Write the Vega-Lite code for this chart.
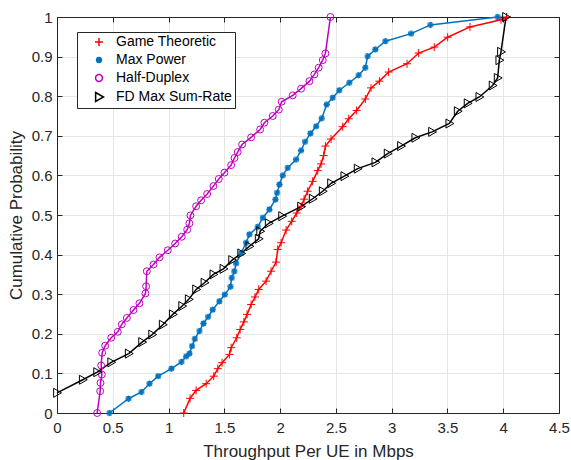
{
  "$schema": "https://vega.github.io/schema/vega-lite/v6.json",
  "width": 502,
  "height": 396,
  "autosize": {"type": "none"},
  "padding": {"left": 57, "top": 17, "right": 12, "bottom": 47},
  "background": "white",
  "config": {
    "view": {"stroke": "#262626", "strokeWidth": 1},
    "font": "Liberation Sans",
    "axis": {
      "labelFont": "Liberation Sans",
      "titleFont": "Liberation Sans",
      "labelFontSize": 15,
      "titleFontSize": 17,
      "titleFontWeight": "normal",
      "labelColor": "#262626",
      "titleColor": "#262626",
      "domainColor": "#262626",
      "tickColor": "#262626",
      "gridColor": "#e6e6e6",
      "gridOpacity": 1,
      "labelFlush": false,
      "labelOverlap": false
    }
  },
  "data": {
    "values": [
      {"s": "Game Theoretic", "x": 1.136, "y": 0},
      {"s": "Game Theoretic", "x": 1.193, "y": 0.037},
      {"s": "Game Theoretic", "x": 1.247, "y": 0.057},
      {"s": "Game Theoretic", "x": 1.337, "y": 0.074},
      {"s": "Game Theoretic", "x": 1.405, "y": 0.093},
      {"s": "Game Theoretic", "x": 1.441, "y": 0.112},
      {"s": "Game Theoretic", "x": 1.48, "y": 0.127},
      {"s": "Game Theoretic", "x": 1.546, "y": 0.148},
      {"s": "Game Theoretic", "x": 1.561, "y": 0.165},
      {"s": "Game Theoretic", "x": 1.611, "y": 0.19},
      {"s": "Game Theoretic", "x": 1.642, "y": 0.211},
      {"s": "Game Theoretic", "x": 1.675, "y": 0.23},
      {"s": "Game Theoretic", "x": 1.704, "y": 0.249},
      {"s": "Game Theoretic", "x": 1.74, "y": 0.274},
      {"s": "Game Theoretic", "x": 1.775, "y": 0.293},
      {"s": "Game Theoretic", "x": 1.808, "y": 0.312},
      {"s": "Game Theoretic", "x": 1.874, "y": 0.333},
      {"s": "Game Theoretic", "x": 1.919, "y": 0.358},
      {"s": "Game Theoretic", "x": 1.964, "y": 0.381},
      {"s": "Game Theoretic", "x": 1.978, "y": 0.413},
      {"s": "Game Theoretic", "x": 2.009, "y": 0.43},
      {"s": "Game Theoretic", "x": 2.054, "y": 0.462},
      {"s": "Game Theoretic", "x": 2.104, "y": 0.484},
      {"s": "Game Theoretic", "x": 2.149, "y": 0.505},
      {"s": "Game Theoretic", "x": 2.188, "y": 0.522},
      {"s": "Game Theoretic", "x": 2.215, "y": 0.54},
      {"s": "Game Theoretic", "x": 2.247, "y": 0.56},
      {"s": "Game Theoretic", "x": 2.292, "y": 0.585},
      {"s": "Game Theoretic", "x": 2.337, "y": 0.612},
      {"s": "Game Theoretic", "x": 2.367, "y": 0.629},
      {"s": "Game Theoretic", "x": 2.39, "y": 0.65},
      {"s": "Game Theoretic", "x": 2.406, "y": 0.674},
      {"s": "Game Theoretic", "x": 2.457, "y": 0.692},
      {"s": "Game Theoretic", "x": 2.561, "y": 0.723},
      {"s": "Game Theoretic", "x": 2.615, "y": 0.743},
      {"s": "Game Theoretic", "x": 2.686, "y": 0.764},
      {"s": "Game Theoretic", "x": 2.764, "y": 0.793},
      {"s": "Game Theoretic", "x": 2.815, "y": 0.821},
      {"s": "Game Theoretic", "x": 2.89, "y": 0.838},
      {"s": "Game Theoretic", "x": 2.973, "y": 0.861},
      {"s": "Game Theoretic", "x": 3.138, "y": 0.882},
      {"s": "Game Theoretic", "x": 3.242, "y": 0.909},
      {"s": "Game Theoretic", "x": 3.382, "y": 0.924},
      {"s": "Game Theoretic", "x": 3.502, "y": 0.949},
      {"s": "Game Theoretic", "x": 3.702, "y": 0.975},
      {"s": "Game Theoretic", "x": 3.98, "y": 0.993},
      {"s": "Game Theoretic", "x": 4.03, "y": 1.0},

      {"s": "Max Power", "x": 0.47, "y": 0},
      {"s": "Max Power", "x": 0.641, "y": 0.036},
      {"s": "Max Power", "x": 0.757, "y": 0.053},
      {"s": "Max Power", "x": 0.829, "y": 0.074},
      {"s": "Max Power", "x": 0.907, "y": 0.093},
      {"s": "Max Power", "x": 1.026, "y": 0.112},
      {"s": "Max Power", "x": 1.116, "y": 0.129},
      {"s": "Max Power", "x": 1.158, "y": 0.143},
      {"s": "Max Power", "x": 1.187, "y": 0.15},
      {"s": "Max Power", "x": 1.211, "y": 0.169},
      {"s": "Max Power", "x": 1.235, "y": 0.187},
      {"s": "Max Power", "x": 1.277, "y": 0.207},
      {"s": "Max Power", "x": 1.313, "y": 0.226},
      {"s": "Max Power", "x": 1.355, "y": 0.243},
      {"s": "Max Power", "x": 1.396, "y": 0.261},
      {"s": "Max Power", "x": 1.456, "y": 0.282},
      {"s": "Max Power", "x": 1.504, "y": 0.299},
      {"s": "Max Power", "x": 1.555, "y": 0.319},
      {"s": "Max Power", "x": 1.566, "y": 0.341},
      {"s": "Max Power", "x": 1.59, "y": 0.358},
      {"s": "Max Power", "x": 1.606, "y": 0.378},
      {"s": "Max Power", "x": 1.651, "y": 0.404},
      {"s": "Max Power", "x": 1.695, "y": 0.43},
      {"s": "Max Power", "x": 1.725, "y": 0.451},
      {"s": "Max Power", "x": 1.799, "y": 0.47},
      {"s": "Max Power", "x": 1.845, "y": 0.493},
      {"s": "Max Power", "x": 1.904, "y": 0.514},
      {"s": "Max Power", "x": 1.958, "y": 0.539},
      {"s": "Max Power", "x": 1.973, "y": 0.556},
      {"s": "Max Power", "x": 1.994, "y": 0.577},
      {"s": "Max Power", "x": 2.024, "y": 0.6},
      {"s": "Max Power", "x": 2.068, "y": 0.619},
      {"s": "Max Power", "x": 2.143, "y": 0.64},
      {"s": "Max Power", "x": 2.188, "y": 0.663},
      {"s": "Max Power", "x": 2.224, "y": 0.685},
      {"s": "Max Power", "x": 2.272, "y": 0.706},
      {"s": "Max Power", "x": 2.323, "y": 0.724},
      {"s": "Max Power", "x": 2.373, "y": 0.744},
      {"s": "Max Power", "x": 2.418, "y": 0.779},
      {"s": "Max Power", "x": 2.471, "y": 0.796},
      {"s": "Max Power", "x": 2.531, "y": 0.815},
      {"s": "Max Power", "x": 2.621, "y": 0.834},
      {"s": "Max Power", "x": 2.704, "y": 0.853},
      {"s": "Max Power", "x": 2.764, "y": 0.872},
      {"s": "Max Power", "x": 2.785, "y": 0.901},
      {"s": "Max Power", "x": 2.854, "y": 0.918},
      {"s": "Max Power", "x": 2.944, "y": 0.939},
      {"s": "Max Power", "x": 3.174, "y": 0.958},
      {"s": "Max Power", "x": 3.347, "y": 0.98},
      {"s": "Max Power", "x": 3.95, "y": 1.0},

      {"s": "Half-Duplex", "x": 0.36, "y": 0},
      {"s": "Half-Duplex", "x": 0.387, "y": 0.055},
      {"s": "Half-Duplex", "x": 0.39, "y": 0.076},
      {"s": "Half-Duplex", "x": 0.402, "y": 0.097},
      {"s": "Half-Duplex", "x": 0.396, "y": 0.12},
      {"s": "Half-Duplex", "x": 0.405, "y": 0.152},
      {"s": "Half-Duplex", "x": 0.432, "y": 0.17},
      {"s": "Half-Duplex", "x": 0.486, "y": 0.19},
      {"s": "Half-Duplex", "x": 0.545, "y": 0.205},
      {"s": "Half-Duplex", "x": 0.581, "y": 0.224},
      {"s": "Half-Duplex", "x": 0.626, "y": 0.24},
      {"s": "Half-Duplex", "x": 0.686, "y": 0.26},
      {"s": "Half-Duplex", "x": 0.739, "y": 0.277},
      {"s": "Half-Duplex", "x": 0.793, "y": 0.302},
      {"s": "Half-Duplex", "x": 0.799, "y": 0.32},
      {"s": "Half-Duplex", "x": 0.805, "y": 0.358},
      {"s": "Half-Duplex", "x": 0.865, "y": 0.375},
      {"s": "Half-Duplex", "x": 0.919, "y": 0.393},
      {"s": "Half-Duplex", "x": 0.993, "y": 0.411},
      {"s": "Half-Duplex", "x": 1.059, "y": 0.428},
      {"s": "Half-Duplex", "x": 1.118, "y": 0.445},
      {"s": "Half-Duplex", "x": 1.167, "y": 0.463},
      {"s": "Half-Duplex", "x": 1.187, "y": 0.479},
      {"s": "Half-Duplex", "x": 1.196, "y": 0.499},
      {"s": "Half-Duplex", "x": 1.247, "y": 0.522},
      {"s": "Half-Duplex", "x": 1.292, "y": 0.537},
      {"s": "Half-Duplex", "x": 1.346, "y": 0.553},
      {"s": "Half-Duplex", "x": 1.402, "y": 0.573},
      {"s": "Half-Duplex", "x": 1.45, "y": 0.591},
      {"s": "Half-Duplex", "x": 1.501, "y": 0.607},
      {"s": "Half-Duplex", "x": 1.561, "y": 0.626},
      {"s": "Half-Duplex", "x": 1.591, "y": 0.644},
      {"s": "Half-Duplex", "x": 1.62, "y": 0.659},
      {"s": "Half-Duplex", "x": 1.659, "y": 0.678},
      {"s": "Half-Duplex", "x": 1.74, "y": 0.696},
      {"s": "Half-Duplex", "x": 1.821, "y": 0.716},
      {"s": "Half-Duplex", "x": 1.859, "y": 0.733},
      {"s": "Half-Duplex", "x": 1.934, "y": 0.75},
      {"s": "Half-Duplex", "x": 1.988, "y": 0.766},
      {"s": "Half-Duplex", "x": 2.014, "y": 0.786},
      {"s": "Half-Duplex", "x": 2.113, "y": 0.802},
      {"s": "Half-Duplex", "x": 2.188, "y": 0.819},
      {"s": "Half-Duplex", "x": 2.263, "y": 0.838},
      {"s": "Half-Duplex", "x": 2.307, "y": 0.855},
      {"s": "Half-Duplex", "x": 2.346, "y": 0.872},
      {"s": "Half-Duplex", "x": 2.382, "y": 0.891},
      {"s": "Half-Duplex", "x": 2.406, "y": 0.908},
      {"s": "Half-Duplex", "x": 2.451, "y": 1.0},

      {"s": "FD Max Sum-Rate", "x": 0, "y": 0.051},
      {"s": "FD Max Sum-Rate", "x": 0.231, "y": 0.084},
      {"s": "FD Max Sum-Rate", "x": 0.36, "y": 0.103},
      {"s": "FD Max Sum-Rate", "x": 0.486, "y": 0.128},
      {"s": "FD Max Sum-Rate", "x": 0.643, "y": 0.15},
      {"s": "FD Max Sum-Rate", "x": 0.763, "y": 0.179},
      {"s": "FD Max Sum-Rate", "x": 0.853, "y": 0.198},
      {"s": "FD Max Sum-Rate", "x": 0.948, "y": 0.223},
      {"s": "FD Max Sum-Rate", "x": 1.038, "y": 0.249},
      {"s": "FD Max Sum-Rate", "x": 1.122, "y": 0.27},
      {"s": "FD Max Sum-Rate", "x": 1.181, "y": 0.287},
      {"s": "FD Max Sum-Rate", "x": 1.247, "y": 0.312},
      {"s": "FD Max Sum-Rate", "x": 1.322, "y": 0.329},
      {"s": "FD Max Sum-Rate", "x": 1.402, "y": 0.35},
      {"s": "FD Max Sum-Rate", "x": 1.492, "y": 0.364},
      {"s": "FD Max Sum-Rate", "x": 1.57, "y": 0.386},
      {"s": "FD Max Sum-Rate", "x": 1.651, "y": 0.403},
      {"s": "FD Max Sum-Rate", "x": 1.725, "y": 0.421},
      {"s": "FD Max Sum-Rate", "x": 1.808, "y": 0.44},
      {"s": "FD Max Sum-Rate", "x": 1.821, "y": 0.459},
      {"s": "FD Max Sum-Rate", "x": 1.898, "y": 0.479},
      {"s": "FD Max Sum-Rate", "x": 2.018, "y": 0.497},
      {"s": "FD Max Sum-Rate", "x": 2.188, "y": 0.521},
      {"s": "FD Max Sum-Rate", "x": 2.292, "y": 0.541},
      {"s": "FD Max Sum-Rate", "x": 2.382, "y": 0.56},
      {"s": "FD Max Sum-Rate", "x": 2.457, "y": 0.58},
      {"s": "FD Max Sum-Rate", "x": 2.576, "y": 0.598},
      {"s": "FD Max Sum-Rate", "x": 2.695, "y": 0.617},
      {"s": "FD Max Sum-Rate", "x": 2.854, "y": 0.633},
      {"s": "FD Max Sum-Rate", "x": 2.964, "y": 0.655},
      {"s": "FD Max Sum-Rate", "x": 3.084, "y": 0.674},
      {"s": "FD Max Sum-Rate", "x": 3.212, "y": 0.695},
      {"s": "FD Max Sum-Rate", "x": 3.362, "y": 0.71},
      {"s": "FD Max Sum-Rate", "x": 3.517, "y": 0.731},
      {"s": "FD Max Sum-Rate", "x": 3.592, "y": 0.762},
      {"s": "FD Max Sum-Rate", "x": 3.681, "y": 0.782},
      {"s": "FD Max Sum-Rate", "x": 3.786, "y": 0.798},
      {"s": "FD Max Sum-Rate", "x": 3.905, "y": 0.827},
      {"s": "FD Max Sum-Rate", "x": 3.95, "y": 0.846},
      {"s": "FD Max Sum-Rate", "x": 3.965, "y": 0.891},
      {"s": "FD Max Sum-Rate", "x": 3.98, "y": 0.912},
      {"s": "FD Max Sum-Rate", "x": 4.025, "y": 1.0}
    ]
  },
  "resolve": {"axis": {"x": "independent", "y": "independent"}},
  "layer": [
    {
      "mark": {"type": "line", "strokeWidth": 1.5, "clip": false},
      "encoding": {
        "x": {
          "field": "x", "type": "quantitative",
          "scale": {"domain": [0, 4.5], "nice": false, "zero": false},
          "axis": {
            "orient": "bottom",
            "values": [0, 0.5, 1, 1.5, 2, 2.5, 3, 3.5, 4, 4.5],
            "labelExpr": "format(datum.value, '~g')",
            "tickSize": -5,
            "labelPadding": 12,
            "title": "Throughput Per UE in Mbps",
            "titlePadding": 8,
            "grid": true
          }
        },
        "y": {
          "field": "y", "type": "quantitative",
          "scale": {"domain": [0, 1], "nice": false, "zero": false},
          "axis": {
            "orient": "left",
            "values": [0, 0.1, 0.2, 0.3, 0.4, 0.5, 0.6, 0.7, 0.8, 0.9, 1],
            "labelExpr": "format(datum.value, '~g')",
            "tickSize": -5,
            "labelPadding": 10,
            "title": "Cumulative Probability",
            "titlePadding": 6,
            "grid": true
          }
        },
        "color": {
          "field": "s", "type": "nominal",
          "scale": {
            "domain": ["Game Theoretic", "Max Power", "Half-Duplex", "FD Max Sum-Rate"],
            "range": ["#ff0000", "#0072bd", "#bf00bf", "#000000"]
          }
        },
        "order": {"field": "y", "type": "quantitative"}
      }
    },
    {
      "mark": {"type": "point", "filled": false, "opacity": 1, "strokeWidth": 1, "clip": false},
      "encoding": {
        "x": {
          "field": "x", "type": "quantitative",
          "axis": {
            "orient": "top",
            "values": [0, 0.5, 1, 1.5, 2, 2.5, 3, 3.5, 4, 4.5],
            "labels": false, "tickSize": -5, "grid": false, "title": null
          }
        },
        "y": {
          "field": "y", "type": "quantitative",
          "axis": {
            "orient": "right",
            "values": [0, 0.1, 0.2, 0.3, 0.4, 0.5, 0.6, 0.7, 0.8, 0.9, 1],
            "labels": false, "tickSize": -5, "grid": false, "title": null
          }
        },
        "color": {
          "field": "s", "type": "nominal",
          "legend": {
            "orient": "none",
            "legendX": 20,
            "legendY": 15,
            "title": null,
            "fillColor": "white",
            "strokeColor": "#262626",
            "padding": 3,
            "labelFont": "Liberation Sans",
            "labelFontSize": 14,
            "labelColor": "#000000",
            "symbolSize": 144,
            "symbolOffset": 12,
            "labelOffset": 10,
            "rowPadding": 4,
            "symbolStrokeWidth": 1.5
          }
        },
        "shape": {
          "field": "s", "type": "nominal",
          "scale": {
            "domain": ["Game Theoretic", "Max Power", "Half-Duplex", "FD Max Sum-Rate"],
            "range": ["M-1,0H1M0,-1V1", "M-1,0H1M0,-1V1M-0.75,-0.75L0.75,0.75M-0.75,0.75L0.75,-0.75M-0.4,-0.9L0.4,0.9M-0.4,0.9L0.4,-0.9M-0.9,-0.4L0.9,0.4M-0.9,0.4L0.9,-0.4", "circle", "M-0.75,-1L1,0L-0.75,1Z"]
          }
        },
        "size": {
          "field": "s", "type": "nominal",
          "scale": {
            "type": "ordinal",
            "domain": ["Game Theoretic", "Max Power", "Half-Duplex", "FD Max Sum-Rate"],
            "range": [64, 40, 48, 81]
          },
          "legend": null
        }
      }
    }
  ]
}
